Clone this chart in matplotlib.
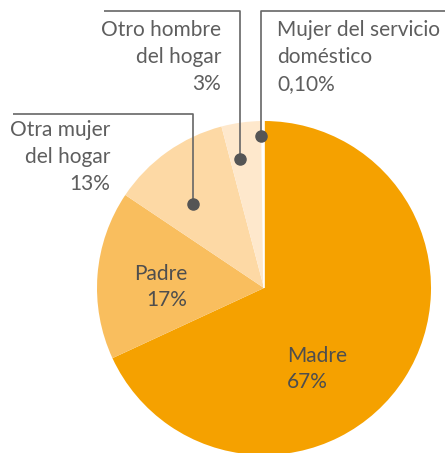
import matplotlib
matplotlib.use('Agg')
import matplotlib.pyplot as plt

# Shares as drawn in the pie (labels show the rounded figures)
categories = ['Madre', 'Padre', 'Otra mujer del hogar', 'Otro hombre del hogar', 'Mujer del servicio doméstico']
shares = [68.1, 16.3, 11.5, 3.9, 0.2]
pct_labels = ['67%', '17%', '13%', '3%', '0,10%']
colors = ['#F5A100', '#F9BE5E', '#FDD9A5', '#FEE8CC', '#FFFFFF']

W, H = 445, 453
text_color = '#5e5e5e'
line_color = '#666666'
font = 'Lato'
fsize = 15
lsp = 1.42

fig = plt.figure(figsize=(W / 100, H / 100), dpi=100)
ax = fig.add_axes([0, 0, 1, 1])

# Pie, drawn clockwise from 12 o'clock
wedges, _ = ax.pie(shares, colors=colors, startangle=90, counterclock=False,
                   center=(264, 165), radius=167,
                   wedgeprops=dict(edgecolor='none', linewidth=0))
# the tiny slice shows as a white gap
wedges[-1].set_edgecolor('white')
wedges[-1].set_linewidth(1.2)

ax.set_xlim(0, W)
ax.set_ylim(0, H)
ax.set_aspect('equal')
ax.axis('off')

# Labels inside the big slices
ax.text(187, 166, 'Padre\n' + pct_labels[1], ha='right', va='center', multialignment='right',
        fontsize=fsize, color='#4e4e4e', family=font, linespacing=lsp)
ax.text(287, 84, 'Madre\n' + pct_labels[0], ha='left', va='center', multialignment='left',
        fontsize=fsize, color='#4e4e4e', family=font, linespacing=lsp)


# Callouts for the small slices
def callout(text, tx, ty, ha, line_x, line_y, dot_x, dot_y):
    ax.text(tx, ty, text, ha=ha, va='center', multialignment=ha,
            fontsize=fsize, color=text_color, family=font, linespacing=lsp)
    ax.plot([line_x[0], line_x[1], dot_x], [line_y, line_y, dot_y],
            color=line_color, linewidth=1.2, solid_capstyle='butt', clip_on=False)
    ax.plot(dot_x, dot_y, 'o', color='#555555', markersize=8)


callout('Otra mujer\ndel hogar\n' + pct_labels[2], 110, 296, 'right', (13, 193), 339, 193, 249)
callout('Otro hombre\ndel hogar\n' + pct_labels[3], 221, 396, 'right', (104, 240), 442, 240, 294)
callout('Mujer del servicio\ndoméstico\n' + pct_labels[4], 277, 396, 'left', (445, 261), 442, 261, 317)

fig.savefig('out.png', dpi=100)
